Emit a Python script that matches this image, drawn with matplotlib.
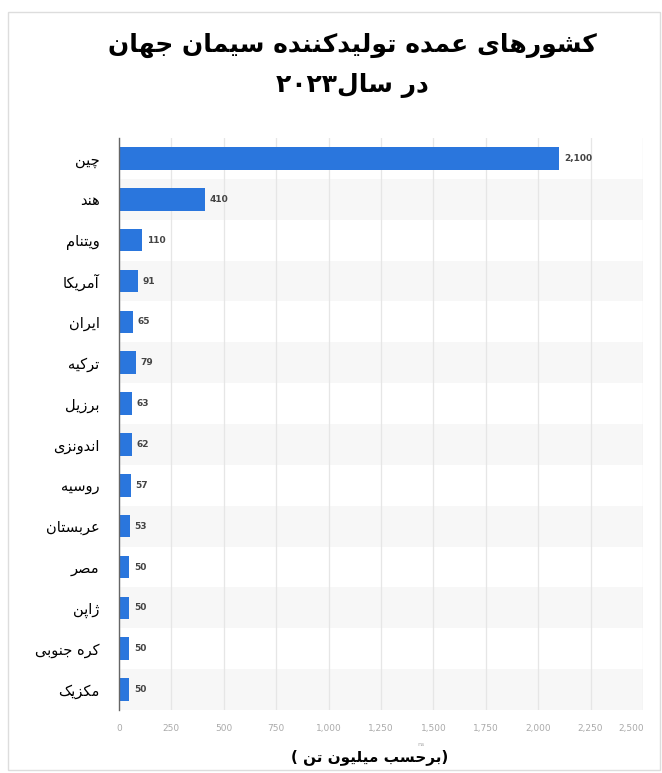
import matplotlib
matplotlib.use("Agg")
import matplotlib.pyplot as plt
import matplotlib.transforms as mtransforms
from matplotlib.patches import Rectangle

# data
countries = ["چین", "هند", "ویتنام", "آمریکا", "ایران", "ترکیه", "برزیل",
             "اندونزی", "روسیه", "عربستان", "مصر", "ژاپن", "کره جنوبی", "مکزیک"]
production = [2100, 410, 110, 91, 65, 79, 63, 62, 57, 53, 50, 50, 50, 50]
x_ticks = [0, 250, 500, 750, 1000, 1250, 1500, 1750, 2000, 2250, 2500]
title_lines = ["کشورهای عمده تولیدکننده سیمان جهان", "در سال۲۰۲۳"]
x_label = "(برحسب میلیون تن )"

# presentation forms: isolated, final, initial, medial (None = right-joining only)
FORMS = {
    "ا": (0xFE8D, 0xFE8E, None, None), "آ": (0xFE81, 0xFE82, None, None),
    "ب": (0xFE8F, 0xFE90, 0xFE91, 0xFE92), "پ": (0xFB56, 0xFB57, 0xFB58, 0xFB59),
    "ت": (0xFE95, 0xFE96, 0xFE97, 0xFE98), "ج": (0xFE9D, 0xFE9E, 0xFE9F, 0xFEA0),
    "چ": (0xFB7A, 0xFB7B, 0xFB7C, 0xFB7D), "ح": (0xFEA1, 0xFEA2, 0xFEA3, 0xFEA4),
    "د": (0xFEA9, 0xFEAA, None, None), "ر": (0xFEAD, 0xFEAE, None, None),
    "ز": (0xFEAF, 0xFEB0, None, None), "ژ": (0xFB8A, 0xFB8B, None, None),
    "س": (0xFEB1, 0xFEB2, 0xFEB3, 0xFEB4), "ش": (0xFEB5, 0xFEB6, 0xFEB7, 0xFEB8),
    "ص": (0xFEB9, 0xFEBA, 0xFEBB, 0xFEBC), "ع": (0xFEC9, 0xFECA, 0xFECB, 0xFECC),
    "ک": (0xFB8E, 0xFB8F, 0xFB90, 0xFB91), "ل": (0xFEDD, 0xFEDE, 0xFEDF, 0xFEE0),
    "م": (0xFEE1, 0xFEE2, 0xFEE3, 0xFEE4), "ن": (0xFEE5, 0xFEE6, 0xFEE7, 0xFEE8),
    "ه": (0xFEE9, 0xFEEA, 0xFEEB, 0xFEEC), "و": (0xFEED, 0xFEEE, None, None),
    "ی": (0xFBFC, 0xFBFD, 0xFBFE, 0xFBFF),
}
DIGITS = "0123456789۰۱۲۳۴۵۶۷۸۹"
MIRROR = {"(": ")", ")": "("}


def rtl(s):
    out = []
    for i, ch in enumerate(s):
        if ch not in FORMS:
            out.append(ch)
            continue
        prev = s[i - 1] if i > 0 else ""
        nxt = s[i + 1] if i + 1 < len(s) else ""
        join_prev = prev in FORMS and FORMS[prev][2] is not None
        join_next = nxt in FORMS and FORMS[ch][2] is not None
        f = FORMS[ch]
        if join_prev and join_next:
            code = f[3]
        elif join_next:
            code = f[2]
        elif join_prev:
            code = f[1]
        else:
            code = f[0]
        out.append(chr(code))
    vis = [MIRROR.get(c, c) for c in reversed(out)]
    # keep digit runs left-to-right
    res, run = [], []
    for c in vis:
        if c in DIGITS:
            run.append(c)
        else:
            res.extend(reversed(run)); run = []
            res.append(c)
    res.extend(reversed(run))
    return "".join(res)


W, H = 662, 773
fig = plt.figure(figsize=(W / 100, H / 100), dpi=100)
fig.patch.set_facecolor("white")

# screenshot frame
fig.patches.append(Rectangle((8 / W, 1 - 770 / H), 652 / W, 758 / H, transform=fig.transFigure,
                             fill=False, edgecolor="#dddddd", linewidth=1))

ax = fig.add_axes([119 / W, 1 - 710 / H, 524 / W, 572 / H])
y = list(range(len(countries)))

for i in y:
    if i % 2 == 1:
        ax.axhspan(i - 0.5, i + 0.5, color="#f7f7f7", zorder=0, lw=0)

ax.barh(y, production, height=0.55, color="#2a76dd", zorder=3)
for i, v in zip(y, production):
    ax.text(v + 22, i, f"{v:,}", va="center", ha="left", fontsize=6.5,
            fontweight="bold", color="#444444", zorder=4)

ax.set_xlim(0, 2500)
ax.set_ylim(len(countries) - 0.5, -0.5)
ax.set_xticks(x_ticks)
ax.set_xticklabels([f"{t:,}" for t in x_ticks], fontsize=6.5, color="#aaaaaa")
ax.set_yticks(y)
ax.set_yticklabels([rtl(c) for c in countries], fontsize=10.5, color="black")
ax.tick_params(axis="x", length=0, pad=10)
ax.tick_params(axis="y", length=0, pad=14)
ax.grid(axis="x", color="#e6e6e6", linewidth=0.9, zorder=1)
ax.set_axisbelow(True)
for s in ["top", "right", "bottom"]:
    ax.spines[s].set_visible(False)
ax.spines["left"].set_color("#666666")
ax.spines["left"].set_linewidth(1)
ax.spines["left"].set_zorder(5)
ax.set_facecolor("white")

# last tick label is pulled inside the plot, as in the original
last = ax.get_xticklabels()[-1]
last.set_transform(last.get_transform() + mtransforms.ScaledTranslation(-12 / 100, 0, fig.dpi_scale_trans))

fig.text(352 / W, 1 - 45 / H, rtl(title_lines[0]), ha="center", va="center",
         fontsize=18, fontweight="bold")
fig.text(352 / W, 1 - 85 / H, rtl(title_lines[1]), ha="center", va="center",
         fontsize=18, fontweight="bold")
fig.text(421 / W, 1 - 744 / H, "ns", ha="center", va="center", fontsize=4.5, color="#aaaaaa")
fig.text(370 / W, 1 - 757 / H, rtl(x_label), ha="center", va="center",
         fontsize=11, fontweight="bold")

fig.savefig("out.png", dpi=100)
